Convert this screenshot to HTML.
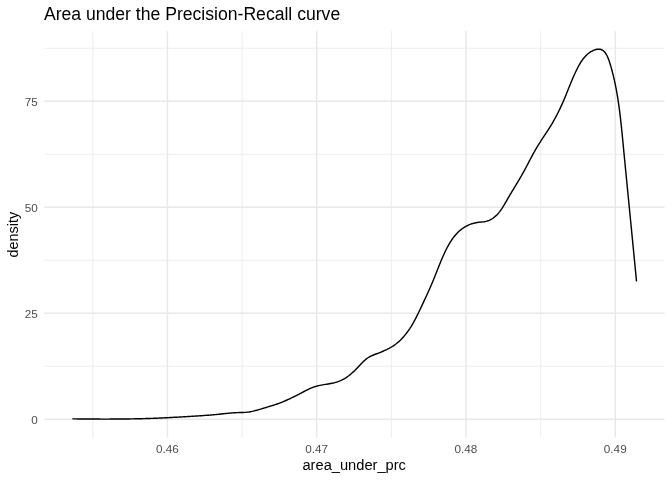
<!DOCTYPE html>
<html lang="en">
<head>
<meta charset="utf-8">
<title>Area under the Precision-Recall curve</title>
<style>
html,body{margin:0;padding:0;background:#ffffff;}
body{width:672px;height:480px;overflow:hidden;font-family:"Liberation Sans",Arial,Helvetica,sans-serif;}
svg{display:block;}
</style>
</head>
<body>
<svg width="672" height="480" viewBox="0 0 672 480">
<rect width="672" height="480" fill="#ffffff"/>
<g stroke="#E8E8E8" fill="none" stroke-linecap="butt">
<line x1="44.4" x2="664.6" y1="366.30" y2="366.30" stroke-width="0.8"/>
<line x1="44.4" x2="664.6" y1="260.30" y2="260.30" stroke-width="0.8"/>
<line x1="44.4" x2="664.6" y1="154.30" y2="154.30" stroke-width="0.8"/>
<line x1="44.4" x2="664.6" y1="48.30" y2="48.30" stroke-width="0.8"/>
<line y1="31.0" y2="437.5" x1="92.80" x2="92.80" stroke-width="0.8"/>
<line y1="31.0" y2="437.5" x1="242.10" x2="242.10" stroke-width="0.8"/>
<line y1="31.0" y2="437.5" x1="391.40" x2="391.40" stroke-width="0.8"/>
<line y1="31.0" y2="437.5" x1="540.70" x2="540.70" stroke-width="0.8"/>
<line x1="44.4" x2="664.6" y1="419.30" y2="419.30" stroke-width="1.42"/>
<line x1="44.4" x2="664.6" y1="313.30" y2="313.30" stroke-width="1.42"/>
<line x1="44.4" x2="664.6" y1="207.30" y2="207.30" stroke-width="1.42"/>
<line x1="44.4" x2="664.6" y1="101.30" y2="101.30" stroke-width="1.42"/>
<line y1="31.0" y2="437.5" x1="167.45" x2="167.45" stroke-width="1.42"/>
<line y1="31.0" y2="437.5" x1="316.75" x2="316.75" stroke-width="1.42"/>
<line y1="31.0" y2="437.5" x1="466.05" x2="466.05" stroke-width="1.42"/>
<line y1="31.0" y2="437.5" x1="615.35" x2="615.35" stroke-width="1.42"/>
</g>
<path d="M72.40,418.87 L73.76,418.88 L75.12,418.90 L76.48,418.91 L77.84,418.93 L79.20,418.94 L80.56,418.96 L81.92,418.97 L83.28,418.98 L84.64,418.99 L86.00,419.00 L87.36,419.01 L88.72,419.03 L90.08,419.03 L91.44,419.04 L92.80,419.05 L94.15,419.06 L95.51,419.07 L96.87,419.07 L98.23,419.08 L99.59,419.08 L100.96,419.09 L102.32,419.09 L103.68,419.09 L105.04,419.09 L106.40,419.09 L107.76,419.09 L109.12,419.09 L110.48,419.08 L111.84,419.08 L113.20,419.08 L114.56,419.07 L115.92,419.06 L117.28,419.05 L118.64,419.04 L120.00,419.03 L121.36,419.02 L122.72,419.01 L124.08,418.99 L125.44,418.98 L126.80,418.96 L128.16,418.94 L129.52,418.92 L130.88,418.90 L132.24,418.87 L133.60,418.85 L134.96,418.82 L136.32,418.80 L137.68,418.77 L139.04,418.74 L140.40,418.70 L141.75,418.67 L143.11,418.63 L144.47,418.60 L145.83,418.56 L147.19,418.52 L148.55,418.48 L149.91,418.43 L151.27,418.38 L152.63,418.34 L153.99,418.29 L155.35,418.24 L156.70,418.18 L158.06,418.13 L159.42,418.07 L160.78,418.01 L162.14,417.95 L163.50,417.88 L164.85,417.82 L166.21,417.75 L167.57,417.68 L168.93,417.61 L170.28,417.54 L171.64,417.47 L173.00,417.40 L174.36,417.32 L175.71,417.25 L177.07,417.17 L178.43,417.09 L179.79,417.02 L181.15,416.94 L182.50,416.86 L183.86,416.78 L185.22,416.70 L186.58,416.62 L187.93,416.54 L189.29,416.46 L190.65,416.38 L192.01,416.30 L193.36,416.22 L194.72,416.13 L196.08,416.05 L197.44,415.96 L198.79,415.87 L200.15,415.78 L201.51,415.69 L202.86,415.60 L204.22,415.50 L205.58,415.40 L206.93,415.30 L208.29,415.20 L209.64,415.09 L211.00,414.98 L212.35,414.86 L213.70,414.74 L215.06,414.62 L216.41,414.49 L217.76,414.36 L219.12,414.22 L220.47,414.08 L221.82,413.94 L223.17,413.80 L224.52,413.65 L225.87,413.52 L227.23,413.38 L228.58,413.25 L229.93,413.13 L231.29,413.01 L232.64,412.90 L234.00,412.81 L235.36,412.72 L236.72,412.65 L238.08,412.59 L239.44,412.55 L240.81,412.52 L242.17,412.48 L243.53,412.44 L244.89,412.36 L246.24,412.26 L247.59,412.11 L248.94,411.93 L250.27,411.71 L251.61,411.46 L252.94,411.18 L254.26,410.87 L255.59,410.54 L256.91,410.19 L258.22,409.82 L259.53,409.44 L260.85,409.06 L262.16,408.66 L263.46,408.26 L264.77,407.87 L266.07,407.47 L267.38,407.08 L268.68,406.69 L269.98,406.30 L271.28,405.90 L272.57,405.50 L273.86,405.08 L275.15,404.66 L276.43,404.23 L277.71,403.78 L278.98,403.31 L280.25,402.83 L281.51,402.34 L282.77,401.83 L284.02,401.31 L285.27,400.77 L286.52,400.23 L287.76,399.67 L289.00,399.10 L290.23,398.52 L291.46,397.94 L292.69,397.34 L293.91,396.74 L295.13,396.13 L296.35,395.52 L297.57,394.90 L298.78,394.28 L299.99,393.65 L301.20,393.02 L302.41,392.38 L303.62,391.75 L304.83,391.12 L306.04,390.49 L307.25,389.88 L308.47,389.28 L309.70,388.71 L310.93,388.16 L312.18,387.65 L313.44,387.16 L314.72,386.72 L316.01,386.33 L317.32,385.97 L318.64,385.65 L319.97,385.36 L321.31,385.10 L322.66,384.85 L324.01,384.62 L325.37,384.40 L326.72,384.18 L328.08,383.96 L329.43,383.73 L330.77,383.49 L332.11,383.23 L333.43,382.95 L334.75,382.63 L336.05,382.28 L337.33,381.89 L338.59,381.45 L339.84,380.96 L341.06,380.42 L342.26,379.83 L343.45,379.20 L344.61,378.53 L345.76,377.81 L346.88,377.06 L347.99,376.27 L349.08,375.45 L350.15,374.60 L351.21,373.73 L352.25,372.82 L353.28,371.90 L354.28,370.95 L355.28,369.99 L356.26,369.01 L357.22,368.02 L358.17,367.02 L359.11,366.02 L360.05,365.01 L360.98,364.02 L361.92,363.03 L362.88,362.07 L363.84,361.13 L364.83,360.22 L365.85,359.35 L366.89,358.53 L367.98,357.76 L369.11,357.04 L370.28,356.39 L371.50,355.80 L372.76,355.26 L374.05,354.75 L375.34,354.26 L376.64,353.78 L377.94,353.29 L379.22,352.80 L380.50,352.29 L381.76,351.78 L383.02,351.25 L384.27,350.71 L385.50,350.15 L386.72,349.57 L387.93,348.96 L389.12,348.34 L390.29,347.69 L391.45,347.01 L392.60,346.31 L393.72,345.57 L394.82,344.80 L395.91,343.99 L396.97,343.15 L398.01,342.28 L399.04,341.37 L400.04,340.44 L401.02,339.48 L401.97,338.50 L402.91,337.49 L403.83,336.46 L404.72,335.41 L405.59,334.35 L406.44,333.27 L407.27,332.17 L408.07,331.07 L408.85,329.95 L409.62,328.83 L410.36,327.69 L411.09,326.55 L411.79,325.39 L412.49,324.23 L413.16,323.06 L413.83,321.88 L414.48,320.70 L415.12,319.50 L415.74,318.31 L416.36,317.10 L416.97,315.89 L417.57,314.68 L418.17,313.46 L418.76,312.24 L419.34,311.01 L419.92,309.79 L420.50,308.56 L421.08,307.33 L421.65,306.09 L422.23,304.86 L422.81,303.62 L423.39,302.39 L423.96,301.15 L424.54,299.92 L425.12,298.68 L425.70,297.44 L426.27,296.20 L426.84,294.96 L427.41,293.72 L427.98,292.48 L428.55,291.24 L429.11,289.99 L429.66,288.75 L430.21,287.50 L430.76,286.26 L431.30,285.01 L431.83,283.76 L432.36,282.51 L432.88,281.26 L433.39,280.00 L433.90,278.75 L434.40,277.49 L434.90,276.24 L435.40,274.98 L435.90,273.72 L436.39,272.47 L436.88,271.21 L437.38,269.95 L437.87,268.69 L438.36,267.44 L438.86,266.18 L439.37,264.93 L439.87,263.67 L440.38,262.42 L440.90,261.17 L441.42,259.92 L441.96,258.67 L442.50,257.42 L443.05,256.18 L443.60,254.94 L444.17,253.70 L444.76,252.46 L445.35,251.23 L445.96,249.99 L446.58,248.77 L447.22,247.54 L447.87,246.32 L448.54,245.11 L449.23,243.91 L449.94,242.73 L450.66,241.55 L451.41,240.40 L452.18,239.26 L452.97,238.14 L453.79,237.04 L454.63,235.97 L455.50,234.93 L456.39,233.91 L457.32,232.93 L458.27,231.98 L459.25,231.06 L460.26,230.18 L461.30,229.34 L462.38,228.54 L463.49,227.78 L464.63,227.06 L465.80,226.39 L467.00,225.77 L468.23,225.19 L469.48,224.66 L470.74,224.17 L472.03,223.74 L473.34,223.35 L474.66,223.01 L475.99,222.72 L477.33,222.49 L478.68,222.30 L480.04,222.14 L481.40,222.00 L482.75,221.86 L484.09,221.68 L485.43,221.46 L486.74,221.17 L488.04,220.79 L489.31,220.31 L490.55,219.71 L491.76,219.02 L492.92,218.25 L494.03,217.42 L495.10,216.55 L496.11,215.63 L497.07,214.68 L497.99,213.69 L498.87,212.66 L499.71,211.61 L500.53,210.53 L501.31,209.43 L502.07,208.30 L502.80,207.16 L503.52,206.00 L504.22,204.83 L504.91,203.65 L505.59,202.47 L506.27,201.28 L506.95,200.09 L507.63,198.90 L508.31,197.72 L509.00,196.55 L509.70,195.37 L510.39,194.20 L511.09,193.03 L511.79,191.87 L512.50,190.71 L513.20,189.54 L513.90,188.38 L514.61,187.22 L515.31,186.06 L516.02,184.90 L516.72,183.74 L517.42,182.58 L518.11,181.42 L518.81,180.25 L519.50,179.09 L520.18,177.92 L520.87,176.74 L521.54,175.57 L522.21,174.38 L522.88,173.20 L523.53,172.01 L524.18,170.82 L524.83,169.62 L525.47,168.42 L526.11,167.22 L526.75,166.01 L527.39,164.80 L528.02,163.60 L528.65,162.39 L529.29,161.18 L529.92,159.97 L530.56,158.77 L531.20,157.56 L531.84,156.36 L532.48,155.16 L533.13,153.96 L533.79,152.77 L534.45,151.58 L535.12,150.40 L535.79,149.22 L536.48,148.04 L537.17,146.87 L537.87,145.71 L538.59,144.55 L539.31,143.40 L540.03,142.26 L540.77,141.12 L541.51,139.98 L542.25,138.84 L543.00,137.71 L543.75,136.58 L544.50,135.45 L545.25,134.32 L546.00,133.19 L546.74,132.05 L547.49,130.92 L548.23,129.78 L548.96,128.63 L549.69,127.48 L550.41,126.33 L551.12,125.17 L551.83,124.01 L552.52,122.83 L553.20,121.66 L553.88,120.47 L554.54,119.28 L555.20,118.08 L555.84,116.88 L556.48,115.68 L557.11,114.47 L557.73,113.25 L558.34,112.03 L558.94,110.81 L559.54,109.58 L560.13,108.35 L560.70,107.12 L561.27,105.88 L561.83,104.64 L562.39,103.40 L562.93,102.16 L563.47,100.91 L564.00,99.67 L564.53,98.42 L565.04,97.17 L565.56,95.92 L566.07,94.67 L566.57,93.42 L567.07,92.17 L567.57,90.92 L568.07,89.67 L568.57,88.42 L569.07,87.17 L569.58,85.91 L570.08,84.66 L570.59,83.41 L571.10,82.16 L571.62,80.91 L572.15,79.66 L572.68,78.41 L573.22,77.17 L573.77,75.92 L574.33,74.68 L574.90,73.43 L575.48,72.19 L576.08,70.95 L576.69,69.72 L577.31,68.48 L577.95,67.25 L578.60,66.02 L579.28,64.80 L579.98,63.60 L580.70,62.42 L581.45,61.26 L582.23,60.12 L583.04,59.01 L583.88,57.94 L584.76,56.90 L585.68,55.91 L586.63,54.96 L587.64,54.06 L588.68,53.21 L589.78,52.42 L590.92,51.70 L592.12,51.03 L593.37,50.44 L594.66,49.93 L595.98,49.53 L597.30,49.27 L598.61,49.16 L599.89,49.23 L601.12,49.51 L602.28,50.01 L603.36,50.76 L604.36,51.70 L605.26,52.80 L606.06,53.99 L606.78,55.24 L607.41,56.54 L607.99,57.87 L608.51,59.22 L608.99,60.56 L609.45,61.88 L609.88,63.20 L610.29,64.51 L610.68,65.81 L611.06,67.11 L611.42,68.41 L611.78,69.71 L612.13,71.02 L612.47,72.33 L612.80,73.63 L613.13,74.95 L613.45,76.26 L613.76,77.57 L614.06,78.89 L614.36,80.21 L614.65,81.53 L614.93,82.85 L615.21,84.17 L615.48,85.50 L615.74,86.83 L616.00,88.15 L616.25,89.48 L616.50,90.82 L616.74,92.15 L616.97,93.48 L617.20,94.82 L617.43,96.15 L617.65,97.49 L617.86,98.83 L618.07,100.17 L618.27,101.51 L618.47,102.86 L618.67,104.20 L618.86,105.55 L619.04,106.89 L619.23,108.24 L619.41,109.59 L619.58,110.93 L619.75,112.28 L619.92,113.63 L620.09,114.98 L620.25,116.34 L620.41,117.69 L620.56,119.04 L620.72,120.39 L620.87,121.75 L621.02,123.10 L621.16,124.46 L621.31,125.81 L621.45,127.17 L621.59,128.52 L621.73,129.88 L621.86,131.24 L622.00,132.59 L622.13,133.95 L622.27,135.31 L622.40,136.66 L622.53,138.02 L622.66,139.38 L622.79,140.73 L622.92,142.09 L623.05,143.45 L623.19,144.81 L623.32,146.16 L623.45,147.52 L623.58,148.87 L623.71,150.23 L623.84,151.59 L623.97,152.94 L624.10,154.30 L624.23,155.65 L624.36,157.01 L624.49,158.36 L624.62,159.72 L624.75,161.07 L624.89,162.43 L625.02,163.78 L625.15,165.13 L625.28,166.49 L625.41,167.84 L625.54,169.20 L625.68,170.55 L625.81,171.90 L625.94,173.26 L626.07,174.61 L626.20,175.96 L626.34,177.32 L626.47,178.67 L626.60,180.02 L626.73,181.37 L626.87,182.73 L627.00,184.08 L627.13,185.43 L627.26,186.78 L627.40,188.14 L627.53,189.49 L627.66,190.84 L627.79,192.19 L627.93,193.55 L628.06,194.90 L628.19,196.25 L628.33,197.60 L628.46,198.95 L628.59,200.31 L628.72,201.66 L628.86,203.01 L628.99,204.36 L629.12,205.71 L629.26,207.06 L629.39,208.42 L629.52,209.77 L629.65,211.12 L629.79,212.47 L629.92,213.82 L630.05,215.18 L630.19,216.53 L630.32,217.88 L630.45,219.23 L630.59,220.58 L630.72,221.93 L630.85,223.29 L630.98,224.64 L631.12,225.99 L631.25,227.34 L631.38,228.69 L631.52,230.05 L631.65,231.40 L631.78,232.75 L631.91,234.10 L632.05,235.46 L632.18,236.81 L632.31,238.16 L632.44,239.51 L632.58,240.87 L632.71,242.22 L632.84,243.57 L632.97,244.93 L633.11,246.28 L633.24,247.63 L633.37,248.99 L633.50,250.34 L633.63,251.69 L633.77,253.05 L633.90,254.40 L634.03,255.76 L634.16,257.11 L634.29,258.46 L634.43,259.82 L634.56,261.17 L634.69,262.53 L634.82,263.88 L634.95,265.24 L635.08,266.59 L635.21,267.95 L635.34,269.31 L635.48,270.66 L635.61,272.02 L635.74,273.37 L635.87,274.73 L636.00,276.09 L636.13,277.44 L636.26,278.80 L636.39,280.16 L636.52,281.52" fill="none" stroke="#000000" stroke-width="1.42" stroke-linejoin="round" stroke-linecap="butt"/>
<g font-family="'Liberation Sans', Arial, Helvetica, sans-serif">
<g font-size="11.73px" fill="#4D4D4D">
<text x="37.8" y="424.15" text-anchor="end">0</text>
<text x="37.8" y="318.15" text-anchor="end">25</text>
<text x="37.8" y="212.15" text-anchor="end">50</text>
<text x="37.8" y="106.15" text-anchor="end">75</text>
<text x="167.35" y="452.9" text-anchor="middle">0.46</text>
<text x="316.65" y="452.9" text-anchor="middle">0.47</text>
<text x="465.95" y="452.9" text-anchor="middle">0.48</text>
<text x="615.25" y="452.9" text-anchor="middle">0.49</text>
</g>
<text x="354.2" y="469.5" font-size="14.67px" fill="#000" text-anchor="middle">area_under_prc</text>
<text transform="translate(17.7,234.6) rotate(-90)" font-size="14.67px" fill="#000" text-anchor="middle" textLength="45.6" lengthAdjust="spacingAndGlyphs">density</text>
<text x="43.9" y="19.9" font-size="17.6px" fill="#000">Area under the Precision-Recall curve</text>
</g>
</svg>
</body>
</html>
